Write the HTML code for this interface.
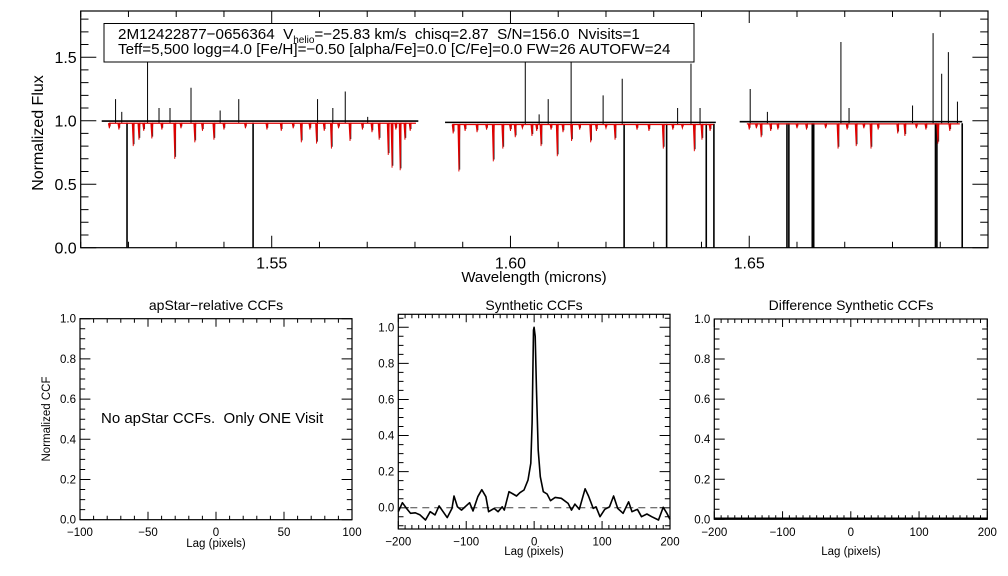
<!DOCTYPE html>
<html><head><meta charset="utf-8"><style>
body{margin:0;background:#fff}
svg{display:block;font-family:"Liberation Sans",sans-serif}
</style></head><body>
<svg id="c" width="1008" height="576" viewBox="0 0 1008 576" xmlns="http://www.w3.org/2000/svg"></svg>
<script>
// ---------- data: spectrum panel ----------
const chipStart=[1.5144,1.5863,1.6480];
const chipEnd=[1.5807,1.6430,1.6946];
const chipLevel=[0.985,0.975,0.98];
const spikeWave=[1.5173,1.5186,1.5240,1.5264,1.5287,1.5331,1.5392,1.5431,1.5596,1.5628,1.5654,1.5701,1.6031,1.6060,1.6079,1.6127,1.6194,1.6234,1.6350,1.6378,1.6397,1.6502,1.6538,1.6692,1.6709,1.6842,1.6885,1.6903,1.6917,1.6936];
const spikeFlux=[1.17,1.07,1.55,1.10,1.10,1.26,1.08,1.17,1.17,1.10,1.23,1.03,1.55,1.05,1.17,1.50,1.20,1.33,1.10,1.45,1.10,1.25,1.07,1.62,1.10,1.12,1.69,1.37,1.54,1.15];
const dropWave=[1.5197,1.5461,1.6238,1.6327,1.6410,1.6426,1.6579,1.6583,1.6632,1.6635,1.6890,1.6893,1.6946];
const dipWave=[1.5210,1.5222,1.5249,1.5297,1.5339,1.5379,1.5562,1.5594,1.5625,1.5664,1.5725,1.5744,1.5752,1.5769,1.5779,
 1.5892,1.5964,1.5984,1.6010,1.6045,1.6064,1.6098,1.6128,1.6168,1.6219,1.6320,1.6385,1.6401,
 1.6525,1.6686,1.6724,1.6755,1.6811,1.6826,1.6895,
 1.5160,1.5180,1.5232,1.5270,1.5310,1.5355,1.5400,1.5445,1.5490,1.5520,1.5545,1.5580,1.5610,1.5640,1.5690,1.5710,1.5760,1.5790,
 1.5880,1.5905,1.5930,1.5950,1.6000,1.6025,1.6055,1.6085,1.6110,1.6145,1.6180,1.6200,1.6265,1.6290,1.6340,1.6360,1.6418,
 1.6500,1.6515,1.6545,1.6560,1.6600,1.6620,1.6660,1.6705,1.6740,1.6770,1.6850,1.6870,1.6920];
const dipFlux=[0.80,0.85,0.86,0.70,0.83,0.85,0.83,0.82,0.78,0.84,0.85,0.73,0.63,0.61,0.85,
 0.60,0.68,0.78,0.87,0.88,0.80,0.72,0.84,0.83,0.85,0.78,0.76,0.85,
 0.87,0.78,0.80,0.78,0.90,0.88,0.82,
 0.94,0.93,0.92,0.93,0.94,0.92,0.93,0.94,0.93,0.92,0.94,0.93,0.92,0.94,0.93,0.91,0.93,0.92,
 0.90,0.92,0.91,0.93,0.92,0.94,0.92,0.93,0.91,0.93,0.92,0.94,0.93,0.92,0.93,0.94,0.92,
 0.93,0.94,0.92,0.93,0.94,0.93,0.94,0.93,0.94,0.93,0.94,0.93,0.92];
const specXTicks=["1.55","1.60","1.65"];
const specYTicks=["0.0","0.5","1.0","1.5"];
// ---------- data: synthetic CCF ----------
const ccfLag=[-200,-194,-188,-182,-175,-168,-160,-153,-146,-140,-134,-128,-121,-118,-113,-107,-95,-90,-83,-77,-71,-67,-59,-53,-47,-44,-37,-31,-26,-21,-15,-9,-5,-3,-1,0,1.5,3.5,6,9,13.5,19,24,31,40,50,55,60,66.5,75,80,87,91,97,104,111,117,123,131,139,144,152,158,166,173,183,190,195,200];
const ccfVal=[-0.022,0.028,-0.004,-0.031,-0.028,-0.04,-0.068,-0.022,-0.04,0.01,-0.022,-0.055,-0.004,0.065,0.005,-0.013,0.028,-0.018,0.061,0.1,0.061,-0.022,-0.004,-0.022,0.005,-0.013,0.089,0.076,0.065,0.083,0.098,0.153,0.246,0.47,0.985,1.0,0.95,0.65,0.32,0.172,0.089,0.076,0.039,0.057,0.052,0.024,-0.013,0.02,-0.009,0.105,0.065,-0.004,0.005,-0.05,-0.009,0.005,0.065,-0.004,-0.031,0.033,-0.022,-0.009,-0.05,-0.035,-0.05,-0.068,0.002,-0.028,-0.065];
const ccfYTicks=["0.0","0.2","0.4","0.6","0.8","1.0"];
const lagTicksA=["-100","-50","0","50","100"];
const lagTicksB=["-200","-100","0","100","200"];
const diffLag=[-200,200];
const diffVal=[0,0];

const S=document.getElementById('c');
const NS='http://www.w3.org/2000/svg';
function mk(t,a,p){const e=document.createElementNS(NS,t);for(const k in a)e.setAttribute(k,a[k]);(p||S).appendChild(e);return e;}
function lin(d0,d1,r0,r1){return v=>r0+(v-d0)*(r1-r0)/(d1-d0);}

function panel(name,x0,x1,y0,y1,xd,yd,xMaj,xMin,yMaj,yMin,xl,yl,fs,tl){
  const g=mk('g',{});
  
  
  const X=lin(xd[0],xd[1],x0,x1),Y=lin(yd[0],yd[1],y1,y0);
  const ax=mk('rect',{x:x0,y:y0,width:x1-x0,height:y1-y0,fill:'none',stroke:'#000','stroke-width':1.2},g);
  
  
  let p='';
  const eps=1e-9;
  for(let v=Math.ceil((xd[0]-eps)/xMin)*xMin;v<=xd[1]+eps;v+=xMin){
    const isM=Math.abs(v/xMaj-Math.round(v/xMaj))<1e-6;const L=isM?tl:tl/2;const x=X(v);
    p+=`M${x},${y1}v${-L}M${x},${y0}v${L}`;
  }
  for(let v=Math.ceil((yd[0]-eps)/yMin)*yMin;v<=yd[1]+eps;v+=yMin){
    const isM=Math.abs(v/yMaj-Math.round(v/yMaj))<1e-6;const L=isM?tl*1.3:tl*0.65;const y=Y(v);
    p+=`M${x0},${y}h${L}M${x1},${y}h${-L}`;
  }
  mk('path',{d:p,stroke:'#000','stroke-width':1,fill:'none'},g);
  xl.forEach(s=>{const t=mk('text',{x:X(parseFloat(s)),y:y1+fs+5,'font-size':fs,'text-anchor':'middle'},g);t.textContent=s.replace('-','\u2212');
    });
  yl.forEach(s=>{const t=mk('text',{x:x0-4,y:Y(parseFloat(s))+fs*0.35,'font-size':fs,'text-anchor':'end'},g);t.textContent=s;
    });
  return {X,Y,g};
}
function txt(s,x,y,fs,name,anchor,rot){const t=mk('text',{x:x,y:y,'font-size':fs,'text-anchor':anchor||'middle'});if(rot)t.setAttribute('transform',`rotate(-90 ${x} ${y})`);t.textContent=s;
  return t;}

// ---- spectrum ----
const P=panel('spectrum-panel',80.7,988,11,247.7,[1.51,1.70],[0,1.864],0.05,0.01,0.5,0.1,specXTicks,specYTicks,16,12);
const cp=mk('clipPath',{id:'clipS'});mk('rect',{x:80.7,y:11,width:907.3,height:236.7},cp);
const gs=mk('g',{'clip-path':'url(#clipS)'},P.g);
function chipOf(w){for(let i=0;i<3;i++)if(w>=chipStart[i]&&w<=chipEnd[i])return i;return -1;}
// black continuum
for(let i=0;i<3;i++){
  const l=mk('path',{d:`M${P.X(chipStart[i])},${P.Y(chipLevel[i]+0.012)}H${P.X(chipEnd[i])}`,stroke:'#000','stroke-width':1.6,fill:'none'},gs);
  
}
// black absorption (follows model)
dipWave.forEach((w,k)=>{const c=chipOf(w);if(c<0)return;const f=dipFlux[k];
  const l=mk('path',{d:`M${P.X(w)+0.8},${P.Y(chipLevel[c])}V${P.Y(f+0.015)}`,stroke:'#333','stroke-width':1},gs);
  });
// spikes
spikeWave.forEach((w,k)=>{const c=chipOf(w);const base=c<0?0.98:chipLevel[c];
  const l=mk('path',{d:`M${P.X(w)},${P.Y(base)}V${P.Y(spikeFlux[k])}`,stroke:'#000','stroke-width':1},gs);
  });
// dropouts
dropWave.forEach((w,k)=>{const c=chipOf(w);const base=c<0?0.98:chipLevel[c];
  const l=mk('path',{d:`M${P.X(w)},${P.Y(base)}V${P.Y(0)}`,stroke:'#000','stroke-width':1.6},gs);
  });
// red model
for(let i=0;i<3;i++){
  const s=chipStart[i]+0.0015,e=chipEnd[i]-0.0005;
  const l=mk('path',{d:`M${P.X(s)},${P.Y(chipLevel[i]-0.005)}H${P.X(e)}`,stroke:'#e00000','stroke-width':1.3,fill:'none'},gs);
  
}
dipWave.forEach((w,k)=>{const c=chipOf(w);if(c<0)return;const x=P.X(w);
  const l=mk('path',{d:`M${x-1},${P.Y(chipLevel[c]-0.005)}L${x},${P.Y(dipFlux[k])}L${x+1},${P.Y(chipLevel[c]-0.005)}`,stroke:'#e00000','stroke-width':0.9,fill:'#e00000'},gs);
  });
txt('Normalized Flux',43,133,16,'y-axis-title','middle',true);
txt('Wavelength (microns)',534,282,15,'x-axis-title');
// info box
const bx=mk('rect',{x:104,y:23.5,width:590,height:38.5,fill:'#fff',stroke:'#000','stroke-width':1});

const t1=mk('text',{x:118,y:39,'font-size':15.2});
t1.style.whiteSpace='pre';
t1.innerHTML='2M12422877\u22120656364  V<tspan font-size="10" dy="4">helio</tspan><tspan dy="-4">=\u221225.83 km/s  chisq=2.87  S/N=156.0  Nvisits=1</tspan>';
txt('Teff=5,500 logg=4.0 [Fe/H]=\u22120.50 [alpha/Fe]=0.0 [C/Fe]=0.0 FW=26 AUTOFW=24',118,54,15.2,'param-info-line','start');

// ---- bottom panels ----
const A=panel('apstar-ccf-panel',80,352,318.7,519.7,[-100,100],[0,1.0],50,10,0.2,0.05,lagTicksA,ccfYTicks,11.5,8);
txt('apStar\u2212relative CCFs',216,310,14,'apstar-ccf-title');
txt('Lag (pixels)',216,547,11.5,'apstar-x-title');
txt('Normalized CCF',50,419,11.5,'apstar-y-title','middle',true);
txt('No apStar CCFs.  Only ONE Visit',101,423,15,'no-ccf-message','start').style.whiteSpace='pre';

const B=panel('synthetic-ccf-panel',398.3,670,314.3,529,[-200,200],[-0.118,1.072],100,10,0.2,0.05,lagTicksB,ccfYTicks,11.5,8);
txt('Synthetic CCFs',534,310,14,'synthetic-ccf-title');
txt('Lag (pixels)',534,555,11.5,'synthetic-x-title');
const z=mk('path',{d:`M${B.X(-200)},${B.Y(0)}H${B.X(200)}`,stroke:'#444','stroke-width':1,'stroke-dasharray':'7,5'},B.g);

const cl=mk('path',{d:ccfLag.map((l,i)=>(i?'L':'M')+B.X(l).toFixed(1)+','+B.Y(ccfVal[i]).toFixed(1)).join(''),fill:'none',stroke:'#000','stroke-width':1.6,'stroke-linejoin':'round'},B.g);


const D=panel('difference-ccf-panel',714.3,987.3,319,519.3,[-200,200],[0,1.0],100,10,0.2,0.05,lagTicksB,ccfYTicks,11.5,8);
txt('Difference Synthetic CCFs',851,310,14,'difference-ccf-title');
txt('Lag (pixels)',851,555,11.5,'difference-x-title');
const dl=mk('path',{d:diffLag.map((l,i)=>(i?'L':'M')+D.X(l)+','+(D.Y(diffVal[i])-1)).join(''),fill:'none',stroke:'#000','stroke-width':1.5},D.g);

</script>
</body></html>
